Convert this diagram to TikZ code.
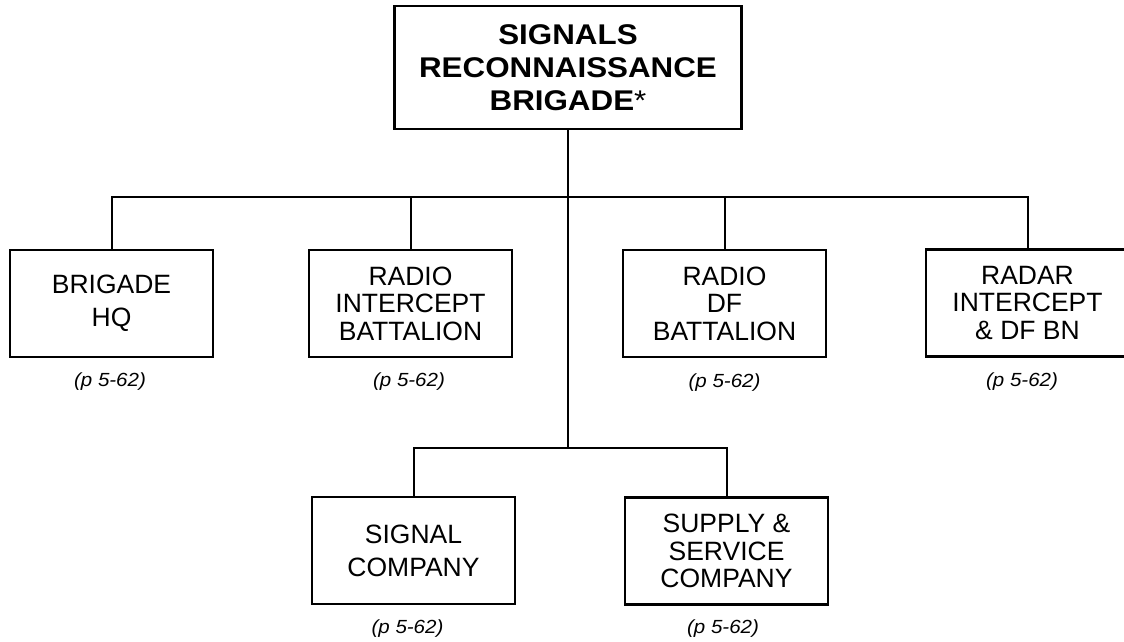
\documentclass[tikz,border=0pt]{standalone}
\usepackage{fontspec}
\setmainfont{Liberation Sans}
\newfontfamily\titlefont{Liberation Sans}[FakeStretch=1.1]
\newfontfamily\reffont{Liberation Sans}[FakeStretch=1.08]
\begin{document}
\begin{tikzpicture}[x=1pt,y=-1pt,
  unit/.style={draw,line width=2.2pt,rectangle,minimum width=203pt,minimum height=107pt,align=center,inner sep=0pt,
    font=\fontsize{26.5}{27.5}\selectfont},
  two/.style={font=\fontsize{26.5}{33}\selectfont},
  ref/.style={font=\reffont\fontsize{19}{20}\selectfont\itshape,anchor=base},
  link/.style={line width=2pt,line cap=rect}]
\useasboundingbox (0,0) rectangle (1124,642);
\clip (0,0) rectangle (1124,642);
\node[unit,minimum width=347pt,minimum height=123pt,font=\titlefont\fontsize{28.5}{33}\selectfont\bfseries] (top) at (568,67.5)
  {SIGNALS\\RECONNAISSANCE\\BRIGADE{\mdseries*}};
\node[unit,two] (hq) at (111.5,303.5) {BRIGADE\\HQ};
\node[unit] (ri) at (410.5,303.5) {RADIO\\INTERCEPT\\BATTALION};
\node[unit] (df) at (724.5,303.5) {RADIO\\DF\\BATTALION};
\node[unit] (radar) at (1027.5,303) {RADAR\\INTERCEPT\\\& DF BN};
\node[unit,two] (sig) at (413.5,550.5) {SIGNAL\\COMPANY};
\node[unit] (sup) at (726.5,551) {SUPPLY \&\\SERVICE\\COMPANY};
\coordinate (j1) at (568,197);
\coordinate (j2) at (568,448);
\draw[link] (top.south) -- (j2);
\draw[link] (hq.north) |- (j1) -| (radar.north);
\draw[link] (ri.north) -- (ri.north |- j1);
\draw[link] (df.north) -- (df.north |- j1);
\draw[link] (sig.north) |- (j2) -| (sup.north);
\node[ref] (r1) at (110,386) {(p 5-62)};
\node[ref] (r2) at (409,386) {(p 5-62)};
\node[ref] (r3) at (724.5,387) {(p 5-62)};
\node[ref] (r4) at (1022,386) {(p 5-62)};
\node[ref] (r5) at (407.5,633) {(p 5-62)};
\node[ref] (r6) at (723,633) {(p 5-62)};
\end{tikzpicture}
\end{document}
